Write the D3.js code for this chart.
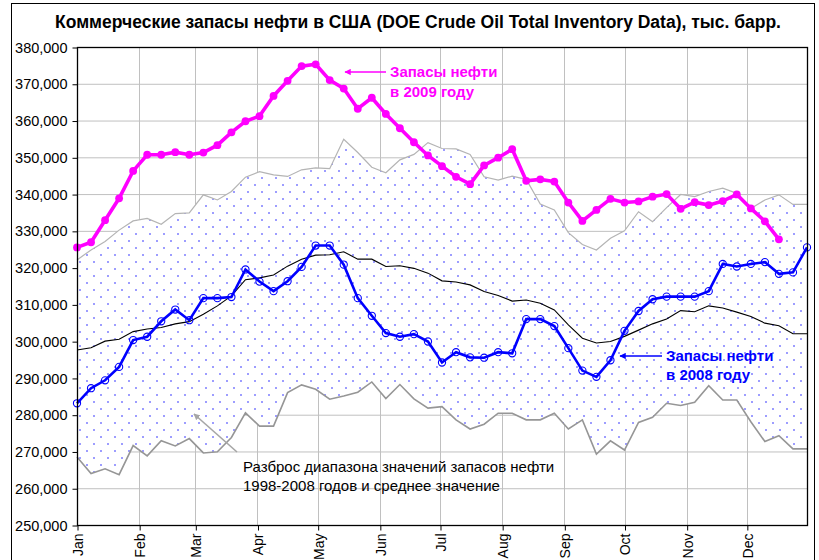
<!DOCTYPE html>
<html lang="ru">
<head>
<meta charset="utf-8">
<title>Коммерческие запасы нефти в США</title>
<script src="https://cdnjs.cloudflare.com/ajax/libs/d3/7.8.5/d3.min.js"></script>
<style>
  body { margin: 0; background: #fff; }
  svg text { font-family: "Liberation Sans", Arial, sans-serif; }
</style>
</head>
<body>
<div id="chart"></div>
<script>
// weekly values, thousand barrels
var stocks2009 = [325500, 326900, 332900, 338850, 346300, 350700, 350700, 351400, 350700, 351300,
  353300, 356800, 359800, 361200, 366700, 370800, 374800, 375300, 371000, 368700,
  363200, 366200, 361800, 357900, 354100, 350500, 347600, 344700, 342700, 347800,
  349900, 352200, 343600, 344000, 343400, 337700, 332700, 335700, 338700, 337700,
  338000, 339300, 340000, 336000, 337800, 337000, 338100, 339900, 336100, 332600, 327700];

var stocks2008 = [283100, 287200, 289350, 293000, 300300, 301200, 305400, 308600, 305700, 311700,
  311700, 312000, 319500, 316200, 313600, 316300, 320200, 326000, 326000, 320800,
  311700, 306900, 302200, 301200, 301900, 299900, 294200, 297000, 295600, 295500,
  297000, 296700, 306000, 306000, 304100, 298100, 292000, 290300, 294800, 302800,
  308200, 311400, 312100, 312100, 312100, 313600, 321000, 320300, 321000, 321500,
  318300, 318700, 325500];

var rangeMax = [322100, 324800, 327100, 330200, 332700, 333400, 331800, 334700, 334900, 339800,
  338400, 340700, 344600, 346100, 345200, 344800, 346600, 347100, 346900, 354900,
  351300, 347300, 345800, 349300, 350800, 354000, 352400, 352300, 350800, 344700,
  343800, 344900, 344000, 337300, 335700, 329500, 326300, 324800, 328000, 330000,
  335200, 332500, 336300, 339900, 339300, 340700, 341600, 340200, 336100, 338400,
  339800, 337200, 337200];

var rangeMin = [268500, 264000, 265300, 263700, 271600, 268800, 272900, 271500, 273500, 269600,
  269900, 273800, 280500, 276900, 276900, 286000, 288100, 286900, 284200, 285100,
  286100, 288900, 284400, 288200, 284300, 281800, 282200, 278600, 276100, 277400,
  280400, 280400, 278600, 278600, 280400, 276100, 278600, 269300, 272900, 270400,
  277900, 279300, 283100, 282500, 283400, 287900, 284000, 284000, 278100, 272700,
  274300, 270700, 270700];

var rangeMean = [297600, 298200, 300000, 300500, 302600, 303300, 303700, 304700, 305300, 307300,
  309600, 312300, 316700, 317200, 318000, 320400, 322300, 323400, 323500, 324300,
  322300, 322300, 320300, 320500, 319800, 318500, 316400, 316100, 315300, 313500,
  312400, 310900, 311200, 310300, 308500, 304400, 300800, 299500, 299900, 301300,
  303000, 304700, 306000, 308300, 308000, 309600, 309000, 307900, 306700, 304900,
  304200, 302000, 302000];

var monthLabels = ["Jan", "Feb", "Mar", "Apr", "May", "Jun", "Jul", "Aug", "Sep", "Oct", "Nov", "Dec"];
var monthStartDay = [0, 31, 59, 90, 120, 151, 181, 212, 243, 273, 304, 334];
var yTicks = [250000, 260000, 270000, 280000, 290000, 300000, 310000, 320000, 330000, 340000, 350000, 360000, 370000, 380000];

var W = 819, H = 560;
var plot = { left: 77, right: 807, top: 47, bottom: 525 };

var svg = d3.select("#chart").append("svg")
    .attr("width", W)
    .attr("height", H);

// x in days from Jan 1, one point per week
var x = d3.scaleLinear().domain([0, 364]).range([plot.left, plot.right]);
var y = d3.scaleLinear().domain([250000, 380000]).range([plot.bottom, plot.top]);
var day = function (d, i) { return x(i * 7); };

var defs = svg.append("defs");
var pat = defs.append("pattern")
    .attr("id", "dots")
    .attr("patternUnits", "userSpaceOnUse")
    .attr("width", 14)
    .attr("height", 14);
pat.append("rect").attr("width", 14).attr("height", 14).attr("fill", "#fff");
pat.append("circle").attr("cx", 3).attr("cy", 3).attr("r", 1).attr("fill", "#7c7cff");
pat.append("circle").attr("cx", 10).attr("cy", 10).attr("r", 1).attr("fill", "#7c7cff");

function arrowHead(id, color) {
  defs.append("marker")
      .attr("id", id)
      .attr("viewBox", "0 0 10 10")
      .attr("refX", 9).attr("refY", 5)
      .attr("markerWidth", 4).attr("markerHeight", 4)
      .attr("orient", "auto")
    .append("path")
      .attr("d", "M0,0L10,5L0,10z")
      .attr("fill", color);
}
arrowHead("arrPink", "#ff00ff");
arrowHead("arrBlue", "#0000ff");
arrowHead("arrGray", "#a6a6a6");

// outer chart frame
svg.append("rect")
    .attr("x", 11.5).attr("y", 3.5)
    .attr("width", 803).attr("height", 620)
    .attr("fill", "none")
    .attr("stroke", "#000")
    .attr("stroke-width", 1);

svg.append("text")
    .attr("x", 418)
    .attr("y", 28)
    .attr("text-anchor", "middle")
    .style("font-family", "'Liberation Sans Narrow', 'Liberation Sans', sans-serif")
    .style("font-weight", "bold")
    .style("font-size", "17.5px")
    .text("Коммерческие запасы нефти в США (DOE Crude Oil Total Inventory Data), тыс. барр.");

// gridlines
svg.append("g")
    .selectAll("line")
    .data(yTicks)
    .enter().append("line")
    .attr("x1", plot.left).attr("x2", plot.right)
    .attr("y1", function (d) { return y(d) + 0.5; })
    .attr("y2", function (d) { return y(d) + 0.5; })
    .attr("stroke", "#c0c0c0");

svg.append("g")
    .selectAll("line")
    .data(monthStartDay.slice(1))
    .enter().append("line")
    .attr("x1", function (d) { return Math.round(x(d)) + 0.5; })
    .attr("x2", function (d) { return Math.round(x(d)) + 0.5; })
    .attr("y1", plot.top).attr("y2", plot.bottom)
    .attr("stroke", "#c0c0c0");

// 1998-2008 range band
var band = d3.area()
    .x(day)
    .y0(function (d, i) { return y(rangeMin[i]); })
    .y1(function (d) { return y(d); });

svg.append("path")
    .datum(rangeMax)
    .attr("d", band)
    .attr("fill", "url(#dots)");

var line = d3.line().x(day).y(function (d) { return y(d); });

svg.append("path").datum(rangeMax).attr("d", line)
    .attr("fill", "none").attr("stroke", "#b4b4b4").attr("stroke-width", 1.2);
svg.append("path").datum(rangeMin).attr("d", line)
    .attr("fill", "none").attr("stroke", "#969696").attr("stroke-width", 1.6);
svg.append("path").datum(rangeMean).attr("d", line)
    .attr("fill", "none").attr("stroke", "#000").attr("stroke-width", 1.1);

// 2008
svg.append("path").datum(stocks2008).attr("d", line)
    .attr("fill", "none").attr("stroke", "#0000ff").attr("stroke-width", 2.6);
svg.append("g").selectAll("circle")
    .data(stocks2008)
    .enter().append("circle")
    .attr("cx", day)
    .attr("cy", function (d) { return y(d); })
    .attr("r", 3.6)
    .attr("fill", "none")
    .attr("stroke", "#0000ff")
    .attr("stroke-width", 1.1);

// 2009
svg.append("path").datum(stocks2009).attr("d", line)
    .attr("fill", "none").attr("stroke", "#ff00ff").attr("stroke-width", 3.6);
svg.append("g").selectAll("circle")
    .data(stocks2009)
    .enter().append("circle")
    .attr("cx", day)
    .attr("cy", function (d) { return y(d); })
    .attr("r", 3.9)
    .attr("fill", "#ff00ff");

// plot frame
svg.append("rect")
    .attr("x", plot.left + 0.5).attr("y", plot.top + 0.5)
    .attr("width", plot.right - plot.left).attr("height", plot.bottom - plot.top)
    .attr("fill", "none")
    .attr("stroke", "#000")
    .attr("stroke-width", 1.3);

// axes
var yAxis = svg.append("g")
    .attr("transform", "translate(" + (plot.left + 0.5) + ",0.5)")
    .call(d3.axisLeft(y).tickValues(yTicks).tickFormat(d3.format(",")).tickSize(5).tickPadding(5));
yAxis.select(".domain").remove();
yAxis.selectAll("line").attr("stroke", "#000");
yAxis.selectAll("text")
    .attr("fill", "#000")
    .style("font-family", "'Liberation Sans', Arial, sans-serif")
    .style("font-size", "14.5px");

var xAxis = svg.append("g")
    .attr("transform", "translate(0.5," + (plot.bottom + 0.5) + ")")
    .call(d3.axisBottom(x).tickValues(monthStartDay)
      .tickFormat(function (d, i) { return monthLabels[i]; })
      .tickSize(5).tickPadding(4));
xAxis.select(".domain").remove();
xAxis.selectAll("line").attr("stroke", "#000");
xAxis.selectAll("text")
    .attr("fill", "#000")
    .attr("transform", "rotate(-90)")
    .attr("text-anchor", "end")
    .attr("x", -8)
    .attr("y", 0)
    .attr("dy", "0.35em")
    .style("font-family", "'Liberation Sans', Arial, sans-serif")
    .style("font-size", "14px");

// annotations
svg.append("line")
    .attr("x1", 386).attr("y1", 72).attr("x2", 345).attr("y2", 72)
    .attr("stroke", "#ff00ff").attr("stroke-width", 1.6)
    .attr("marker-end", "url(#arrPink)");
var pinkNote = svg.append("text")
    .attr("fill", "#ff00ff")
    .style("font-weight", "bold")
    .style("font-size", "15px");
pinkNote.append("tspan").attr("x", 390).attr("y", 77).text("Запасы нефти");
pinkNote.append("tspan").attr("x", 390).attr("y", 97).text("в 2009 году");

svg.append("line")
    .attr("x1", 662).attr("y1", 356).attr("x2", 620).attr("y2", 356)
    .attr("stroke", "#0000ff").attr("stroke-width", 1.6)
    .attr("marker-end", "url(#arrBlue)");
var blueNote = svg.append("text")
    .attr("fill", "#0000ff")
    .style("font-weight", "bold")
    .style("font-size", "15px");
blueNote.append("tspan").attr("x", 666).attr("y", 361).text("Запасы нефти");
blueNote.append("tspan").attr("x", 666).attr("y", 380).text("в 2008 году");

svg.append("line")
    .attr("x1", 237).attr("y1", 452).attr("x2", 194).attr("y2", 414)
    .attr("stroke", "#a6a6a6").attr("stroke-width", 1.6)
    .attr("marker-end", "url(#arrGray)");
var grayNote = svg.append("text")
    .attr("fill", "#000")
    .style("font-size", "15px");
grayNote.append("tspan").attr("x", 243).attr("y", 472).text("Разброс диапазона значений запасов нефти");
grayNote.append("tspan").attr("x", 243).attr("y", 491).text("1998-2008 годов и среднее значение");
</script>
</body>
</html>
